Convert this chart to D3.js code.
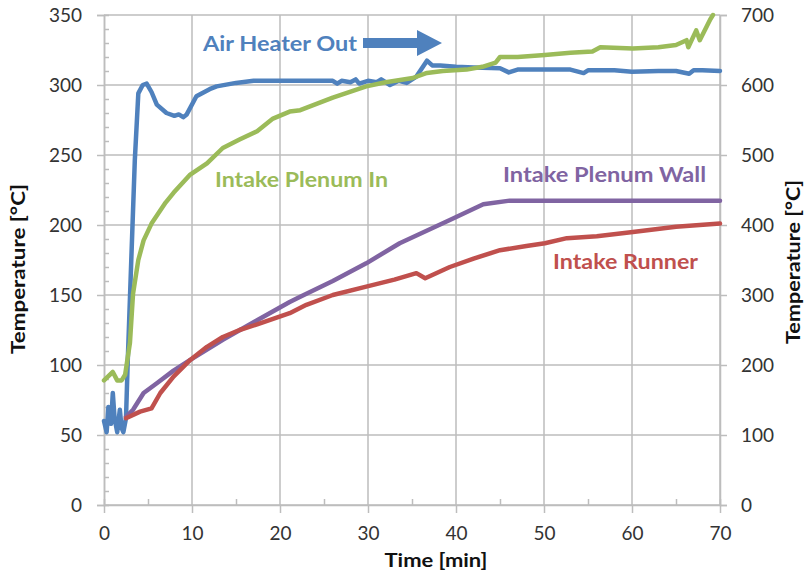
<!DOCTYPE html>
<html>
<head>
<meta charset="utf-8">
<script src="https://cdn.jsdelivr.net/npm/d3@7"></script>
<style>
  body { margin: 0; background: #fff; }
  svg text { font-family: Lato, "Open Sans", sans-serif; }
</style>
</head>
<body>
<svg id="chart" width="809" height="575"></svg>
<script>
// time [min] and temperature [°C]
const heaterT = [0, 0.3, 0.5, 0.8, 1.0, 1.2, 1.5, 1.8, 2.0, 2.2, 2.5, 2.7, 3.1, 3.5, 3.9, 4.4, 4.85, 5.4, 6.0, 7.1, 8.0, 8.5, 9.0, 9.4, 10.5, 12.0, 12.8, 15.0, 17.0, 20, 26, 26.5, 27, 28, 28.6, 29, 30, 31, 31.5, 32.5, 33.5, 34.4, 35.5, 36.7, 37.3, 38.2, 40, 42, 45, 46, 47, 50, 53, 54.5, 55, 58, 60, 63, 65, 66.5, 67, 68, 70];
const heaterV = [60, 52, 70, 58, 80, 62, 52, 68, 55, 52, 62, 103, 175, 246, 294, 300, 301, 295, 286, 280, 278, 279, 277, 279, 292, 297, 299, 301.5, 303, 303, 303, 301, 303, 302, 304, 301, 303, 302, 304, 300, 303, 301.5, 306, 317.4, 314, 314, 313, 312.5, 312, 309, 311, 311, 311, 308.5, 310.5, 310.5, 309.5, 310, 310, 308, 310.5, 310.5, 310];

const plenumInT = [0, 0.5, 1.0, 1.5, 2.0, 2.4, 2.95, 3.3, 3.9, 4.5, 5.4, 7.0, 7.9, 9.8, 11.7, 13.5, 15.4, 17.4, 19.2, 21.1, 22.3, 26, 29.8, 32, 35.1, 36.7, 38.5, 41.2, 43, 44.5, 45, 47, 50.1, 53, 55.5, 56.4, 60.1, 63, 65, 66.2, 66.4, 67.3, 67.7, 68.9, 69.2];
const plenumInV = [89, 92, 95, 89, 89, 93, 116, 151, 175, 189, 201, 216, 223, 236, 244, 255, 261, 267, 276, 281, 282, 291, 299, 302, 305, 308.6, 310, 311, 313, 316, 320, 320, 321.4, 323, 324, 327, 326, 327, 328.6, 332, 327, 339, 332, 347, 350];

const wallT = [2.5, 3.3, 4.5, 6.0, 7.9, 9.8, 13.5, 17.4, 21.1, 22.3, 26, 29.8, 33.6, 39.3, 43.1, 46.1, 50, 60, 70];
const wallV = [63, 68, 80, 87, 96, 103.6, 118, 132, 145, 148.8, 160, 172.6, 187, 203.6, 214.8, 217.4, 217.4, 217.4, 217.4];

const runnerT = [2.5, 4.1, 5.4, 6.4, 7.9, 9.8, 11.7, 13.5, 15.4, 17.4, 21.1, 23, 26, 29.8, 33, 35.5, 36.5, 39.3, 42, 45, 48, 50.1, 52.6, 56, 60.1, 65, 70];
const runnerV = [62, 66.7, 69, 80, 91.7, 103.6, 113, 120, 125, 129, 137, 143, 150, 156, 161, 165.6, 162, 170, 176, 182, 185, 187, 190.6, 192, 195, 198.8, 201];

const xTicks = [0, 10, 20, 30, 40, 50, 60, 70];
const yTicks = [0, 50, 100, 150, 200, 250, 300, 350];
const y2Ticks = [0, 100, 200, 300, 400, 500, 600, 700];

const series = [
  { name: "Air Heater Out", t: heaterT, v: heaterV, color: "#4f81bd" },
  { name: "Intake Plenum In", t: plenumInT, v: plenumInV, color: "#9bbb59" },
  { name: "Intake Plenum Wall", t: wallT, v: wallV, color: "#8064a2" },
  { name: "Intake Runner", t: runnerT, v: runnerV, color: "#c0504d" }
];

const margin = { left: 104, right: 89, top: 15, bottom: 70 };
const W = 809, H = 575;
const svg = d3.select("#chart");

const x = d3.scaleLinear().domain([0, 70]).range([margin.left, W - margin.right]);
const y = d3.scaleLinear().domain([0, 350]).range([H - margin.bottom, margin.top]);
const y2 = d3.scaleLinear().domain([0, 700]).range([H - margin.bottom, margin.top]);

const gridColor = "#bdbdbd";

// gridlines
svg.append("g").selectAll("line").data(xTicks.slice(1)).join("line")
  .attr("x1", d => x(d)).attr("x2", d => x(d))
  .attr("y1", y(0)).attr("y2", y(350))
  .attr("stroke", gridColor).attr("stroke-width", 1.5);
svg.append("g").selectAll("line").data(yTicks.slice(1)).join("line")
  .attr("x1", x(0)).attr("x2", x(70))
  .attr("y1", d => y(d)).attr("y2", d => y(d))
  .attr("stroke", gridColor).attr("stroke-width", 1.5);

// axes
const xAxis = svg.append("g").attr("transform", `translate(0,${y(0)})`)
  .call(d3.axisBottom(x).tickValues(xTicks).tickSize(8).tickPadding(14));
const xMinor = svg.append("g").attr("transform", `translate(0,${y(0)})`)
  .call(d3.axisTop(x).tickValues(d3.range(5, 70, 10)).tickSize(6).tickFormat(""));
const yAxis = svg.append("g").attr("transform", `translate(${x(0)},0)`)
  .call(d3.axisLeft(y).tickValues(yTicks).tickSize(7).tickPadding(15));
const yMinor = svg.append("g").attr("transform", `translate(${x(0)},0)`)
  .call(d3.axisRight(y).tickValues(d3.range(10, 350, 10).filter(d => d % 50 !== 0)).tickSize(5).tickFormat(""));
const y2Axis = svg.append("g").attr("transform", `translate(${x(70)},0)`)
  .call(d3.axisRight(y2).tickValues(y2Ticks).tickSize(7).tickPadding(14));

[xAxis, xMinor, yAxis, yMinor, y2Axis].forEach(g => {
  g.select(".domain").attr("stroke", gridColor).attr("stroke-width", 1.5);
  g.selectAll(".tick line").attr("stroke", gridColor).attr("stroke-width", 1.5);
  g.selectAll(".tick text").attr("fill", "#333").style("font-size", "19px")
    .style("font-family", "Lato, sans-serif");
});
xAxis.selectAll(".domain").attr("d", `M${x(0)},0H${x(70)}`);

// series lines
const line = d3.line().x(d => x(d[0])).y(d => y(d[1]));
svg.append("g").selectAll("path").data(series).join("path")
  .attr("d", s => line(d3.zip(s.t, s.v)))
  .attr("fill", "none")
  .attr("stroke", s => s.color)
  .attr("stroke-width", 4.5)
  .attr("stroke-linejoin", "round")
  .attr("stroke-linecap", "round");

// series labels
const labels = [
  { text: "Air Heater Out", x: 203, y: 51, w: 154, color: "#4f81bd" },
  { text: "Intake Plenum In", x: 215, y: 187, w: 173, color: "#9bbb59" },
  { text: "Intake Plenum Wall", x: 503, y: 182, w: 203, color: "#8064a2" },
  { text: "Intake Runner", x: 553, y: 269, w: 145, color: "#c0504d" }
];
svg.append("g").selectAll("text").data(labels).join("text")
  .attr("x", d => d.x).attr("y", d => d.y)
  .attr("fill", d => d.color)
  .attr("textLength", d => d.w).attr("lengthAdjust", "spacingAndGlyphs")
  .style("font-size", "21px").style("font-weight", "bold")
  .text(d => d.text);

// arrow after "Air Heater Out"
svg.append("path")
  .attr("d", "M363,38 L417,38 L417,30 L442,43 L417,56 L417,48 L363,48 Z")
  .attr("fill", "#4f81bd");

// axis titles
svg.append("text")
  .attr("transform", "translate(25,269) rotate(-90)")
  .attr("text-anchor", "middle")
  .attr("textLength", 170).attr("lengthAdjust", "spacingAndGlyphs")
  .style("font-size", "18px").style("font-weight", "bold").attr("fill", "#111")
  .text("Temperature [°C]");
svg.append("text")
  .attr("transform", "translate(800,262) rotate(-90)")
  .attr("text-anchor", "middle")
  .attr("textLength", 164).attr("lengthAdjust", "spacingAndGlyphs")
  .style("font-size", "18px").style("font-weight", "bold").attr("fill", "#111")
  .text("Temperature [°C]");
svg.append("text")
  .attr("x", 436).attr("y", 567)
  .attr("text-anchor", "middle")
  .attr("textLength", 103).attr("lengthAdjust", "spacingAndGlyphs")
  .style("font-size", "19px").style("font-weight", "bold").attr("fill", "#111")
  .text("Time [min]");
</script>
</body>
</html>
